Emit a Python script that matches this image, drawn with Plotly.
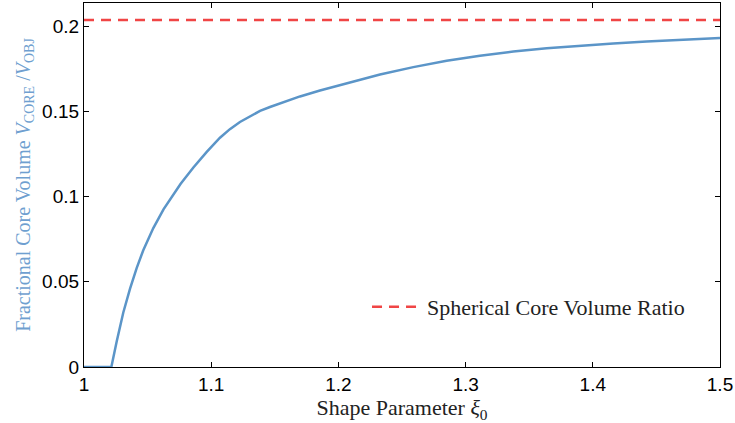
import plotly.graph_objects as go

# Shape parameter xi_0 and fractional core volume
xi = [1.0, 1.0215, 1.0257, 1.0309, 1.0362, 1.0414, 1.0466, 1.0545, 1.0625, 1.0700,
      1.0760, 1.0860, 1.0965, 1.1069, 1.1147, 1.1226, 1.1305, 1.1384, 1.1462,
      1.1541, 1.1698, 1.1855, 1.2065, 1.2327, 1.2589, 1.2851, 1.3113, 1.3375,
      1.3637, 1.3899, 1.4161, 1.4423, 1.4686, 1.5]
core_ratio = [0.0, 0.0, 0.0150, 0.0320, 0.0460, 0.0580, 0.0685, 0.0815, 0.0925, 0.1010,
              0.1075, 0.1170, 0.1262, 0.1345, 0.1395, 0.1437, 0.1472, 0.1502, 0.1525,
              0.1547, 0.1587, 0.1622, 0.1665, 0.1716, 0.1759, 0.1796, 0.1826, 0.1850,
              0.1869, 0.1885, 0.1898, 0.1909, 0.1919, 0.1929]
sphere_ratio = 0.2035
x_ticks = [1, 1.1, 1.2, 1.3, 1.4, 1.5]
x_tick_text = ["1", "1.1", "1.2", "1.3", "1.4", "1.5"]
y_ticks = [0, 0.05, 0.1, 0.15, 0.2]
y_tick_text = ["0", "0.05", "0.1", "0.15", "0.2"]

serif = "Liberation Serif, DejaVu Serif, serif"
sans = "Liberation Sans, Arial, sans-serif"

fig = go.Figure()
fig.add_trace(go.Scatter(
    x=xi, y=core_ratio, mode="lines", line=dict(color="#5b95c8", width=2.5),
    showlegend=False))
fig.add_trace(go.Scatter(
    x=[xi[0], xi[-1]], y=[sphere_ratio, sphere_ratio], mode="lines",
    line=dict(color="#f04545", width=2.5, dash="10px,7px"),
    name="Spherical Core Volume Ratio", showlegend=True))

fig.update_layout(
    width=735, height=423,
    margin=dict(l=84, r=15, t=3, b=56),
    paper_bgcolor="white", plot_bgcolor="white",
    legend=dict(x=0.445, y=0.165, xanchor="left", yanchor="middle",
                bgcolor="rgba(0,0,0,0)", font=dict(family=serif, size=22, color="#222"),
                itemwidth=50),
    xaxis=dict(range=[1, 1.5], tickvals=x_ticks, ticktext=x_tick_text,
               ticks="inside", ticklen=5, tickcolor="black", tickwidth=1,
               showline=True, linecolor="black", linewidth=1.3, mirror="allticks",
               showgrid=False, zeroline=False,
               tickfont=dict(family=sans, size=19, color="black"),
               title=dict(text="Shape Parameter <i>ξ</i><sub>0</sub>",
                          font=dict(family=serif, size=22, color="#222"), standoff=0)),
    yaxis=dict(range=[0, 0.2135], tickvals=y_ticks, ticktext=y_tick_text,
               ticks="inside", ticklen=5, tickcolor="black", tickwidth=1,
               showline=True, linecolor="black", linewidth=1.3, mirror="allticks",
               showgrid=False, zeroline=False,
               tickfont=dict(family=sans, size=19, color="black"),
               title=dict(text="Fractional Core Volume <i>V</i><sub>CORE</sub> /<i>V</i><sub>OBJ</sub>",
                          font=dict(family=serif, size=20, color="#6f9fd0"), standoff=6)),
)

fig.write_html("out.html")
